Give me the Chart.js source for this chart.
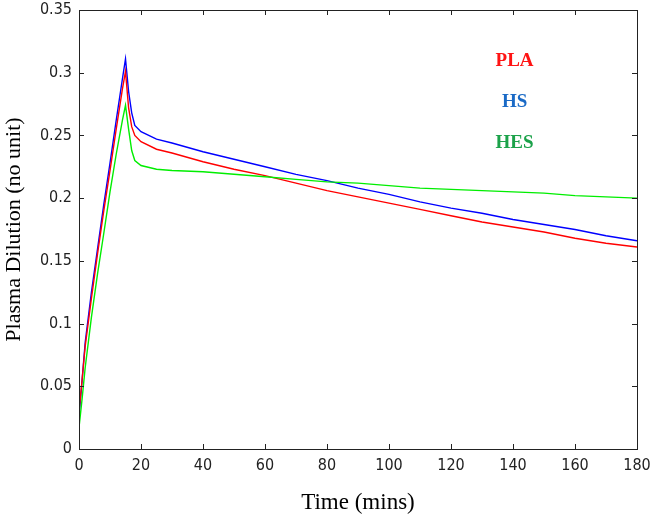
<!DOCTYPE html>
<html>
<head>
<meta charset="utf-8">
<script src="https://cdn.jsdelivr.net/npm/chart.js@4/dist/chart.umd.min.js"></script>
<style>
  html, body { margin: 0; padding: 0; background: #fff; }
  #wrap { width: 653px; height: 518px; }
</style>
</head>
<body>
<div id="wrap"><canvas id="chart" width="653" height="518"></canvas></div>
<script>
// time points (mins)
const times = [0, 1, 2, 4, 6, 8, 10, 12, 14, 15, 16, 17, 18, 20, 25, 30, 40, 50, 60, 70, 80, 90, 100, 110, 120, 130, 140, 150, 160, 170, 180];

// plasma dilution per series
const pla = [0.030, 0.055, 0.082, 0.120, 0.156, 0.190, 0.222, 0.255, 0.287, 0.301, 0.272, 0.257, 0.250, 0.245, 0.239, 0.236, 0.229, 0.223, 0.218, 0.212, 0.206, 0.201, 0.196, 0.191, 0.186, 0.181, 0.177, 0.173, 0.168, 0.164, 0.161];
const hs = [0.025, 0.055, 0.085, 0.125, 0.160, 0.195, 0.228, 0.262, 0.295, 0.311, 0.285, 0.268, 0.258, 0.253, 0.247, 0.244, 0.237, 0.231, 0.225, 0.219, 0.214, 0.208, 0.203, 0.197, 0.192, 0.188, 0.183, 0.179, 0.175, 0.170, 0.166];
const hes = [0.017, 0.040, 0.065, 0.105, 0.140, 0.172, 0.205, 0.235, 0.262, 0.274, 0.255, 0.238, 0.230, 0.226, 0.223, 0.222, 0.221, 0.219, 0.217, 0.215, 0.213, 0.212, 0.210, 0.208, 0.207, 0.206, 0.205, 0.204, 0.202, 0.201, 0.200];

const xTicks = [0, 20, 40, 60, 80, 100, 120, 140, 160, 180];
const yTicks = [0, 0.05, 0.1, 0.15, 0.2, 0.25, 0.3, 0.35];

const labels = [
  { text: 'PLA', color: '#ff1414' },
  { text: 'HS', color: '#1a6ac6' },
  { text: 'HES', color: '#1ca24a' }
];

const toPoints = (vals) => times.map((t, i) => ({ x: t, y: vals[i] }));

// box round the plot with MATLAB-style inward ticks, plus the text labels
const boxPlugin = {
  id: 'box',
  afterDraw(chart) {
    const { ctx, chartArea: a, scales } = chart;
    ctx.save();
    ctx.strokeStyle = '#222';
    ctx.lineWidth = 1;
    ctx.strokeRect(a.left + 0.5, a.top + 0.5, a.right - a.left, a.bottom - a.top);
    ctx.beginPath();
    xTicks.forEach(v => {
      const px = Math.round(scales.x.getPixelForValue(v)) + 0.5;
      ctx.moveTo(px, a.bottom); ctx.lineTo(px, a.bottom - 5);
      ctx.moveTo(px, a.top); ctx.lineTo(px, a.top + 5);
    });
    yTicks.forEach(v => {
      const py = Math.round(scales.y.getPixelForValue(v)) + 0.5;
      ctx.moveTo(a.left, py); ctx.lineTo(a.left + 5, py);
      ctx.moveTo(a.right, py); ctx.lineTo(a.right - 5, py);
    });
    ctx.stroke();

    ctx.font = 'bold 19px "Liberation Serif", serif';
    ctx.textAlign = 'center';
    ctx.textBaseline = 'middle';
    const lx = scales.x.getPixelForValue(140.5);
    const ly = [0.309, 0.2765, 0.2435];
    labels.forEach((l, i) => {
      ctx.fillStyle = l.color;
      ctx.fillText(l.text, lx, scales.y.getPixelForValue(ly[i]));
    });
    ctx.restore();
  }
};

const fmt = v => String(parseFloat(v.toFixed(2)));
const tickFont = { family: '"Liberation Sans Narrow", "DejaVu Sans Condensed", sans-serif', size: 16 };

new Chart(document.getElementById('chart').getContext('2d'), {
  type: 'line',
  data: {
    datasets: [
      { label: 'HES', data: toPoints(hes), borderColor: '#00ee00', borderWidth: 1.4, pointRadius: 0, fill: false, tension: 0 },
      { label: 'PLA', data: toPoints(pla), borderColor: '#ff0000', borderWidth: 1.4, pointRadius: 0, fill: false, tension: 0 },
      { label: 'HS', data: toPoints(hs), borderColor: '#0000ff', borderWidth: 1.4, pointRadius: 0, fill: false, tension: 0 }
    ]
  },
  options: {
    responsive: false,
    animation: false,
    layout: { padding: { top: 10, right: 16, left: 0, bottom: 0 } },
    plugins: {
      legend: { display: false },
      tooltip: { enabled: false }
    },
    scales: {
      x: {
        type: 'linear',
        min: 0,
        max: 180,
        afterBuildTicks: s => { s.ticks = xTicks.map(v => ({ value: v })); },
        afterFit: s => { s.height = 69; s.paddingLeft = 0; s.paddingRight = 0; },
        grid: { display: false, drawTicks: false },
        border: { display: false },
        ticks: {
          padding: 7,
          color: '#222',
          font: tickFont,
          maxRotation: 0,
          callback: v => fmt(v)
        },
        title: {
          display: true,
          text: 'Time (mins)',
          color: '#000',
          font: { family: '"Liberation Serif", serif', size: 23 },
          padding: { top: 0, bottom: 1 }
        }
      },
      y: {
        type: 'linear',
        min: 0,
        max: 0.35,
        afterBuildTicks: s => { s.ticks = yTicks.map(v => ({ value: v })); },
        afterFit: s => { s.width = 79; s.paddingTop = 0; s.paddingBottom = 0; },
        grid: { display: false, drawTicks: false },
        border: { display: false },
        ticks: {
          padding: 7,
          color: '#222',
          font: tickFont,
          callback: v => fmt(v)
        },
        title: {
          display: true,
          text: 'Plasma Dilution (no unit)',
          color: '#000',
          font: { family: '"Liberation Serif", serif', size: 22 },
          padding: { top: 1, bottom: 0 }
        }
      }
    }
  },
  plugins: [boxPlugin]
});
</script>
</body>
</html>
